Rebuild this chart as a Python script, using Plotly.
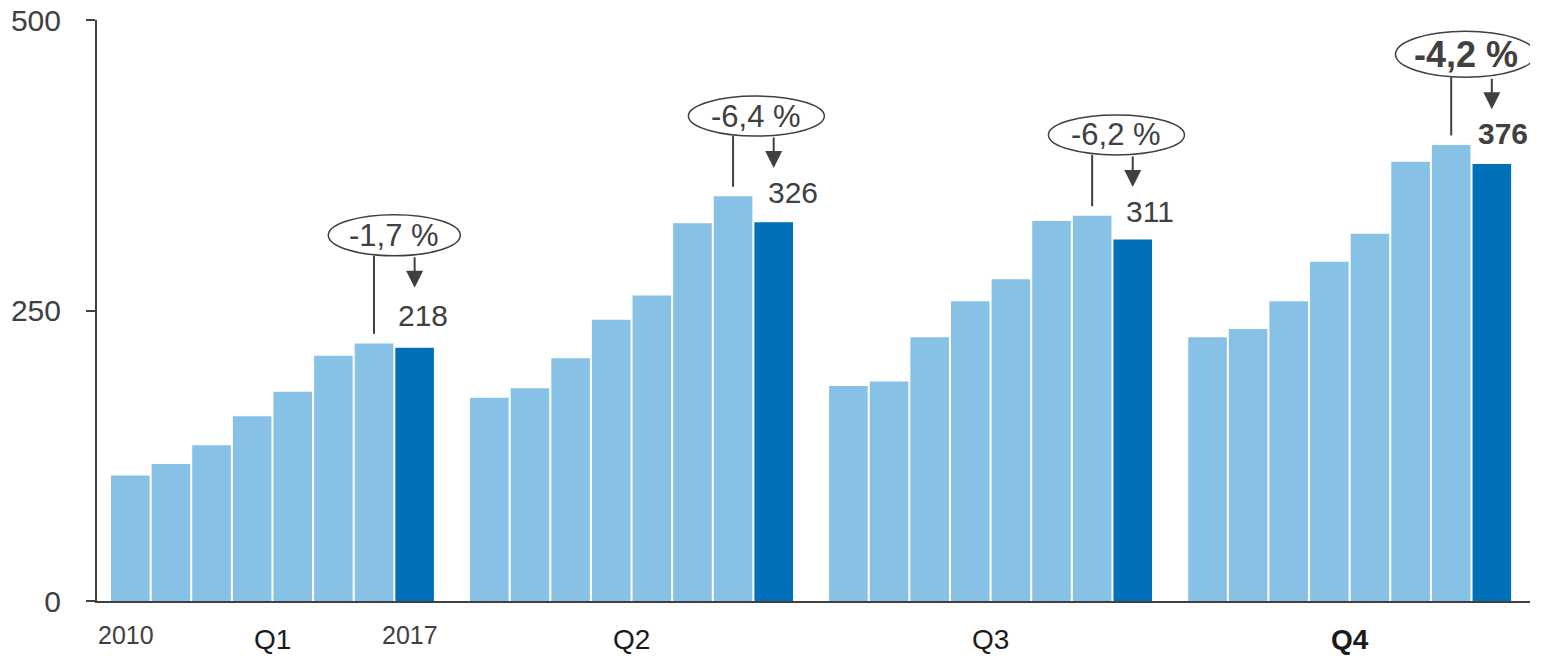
import plotly.graph_objects as go

# ---------------- data ----------------
quarters = ["Q1", "Q2", "Q3", "Q4"]
years = ["2010", "2011", "2012", "2013", "2014", "2015", "2016", "2017"]
q1_values = [108, 118, 134, 159, 180, 211, 221.7, 218]
q2_values = [175, 183, 209, 242, 263, 325, 348.3, 326]
q3_values = [185, 189, 227, 258, 277, 327, 331.6, 311]
q4_values = [227, 234, 258, 292, 316, 378, 392.5, 376]
change_labels = ["-1,7 %", "-6,4 %", "-6,2 %", "-4,2 %"]
value_labels = ["218", "326", "311", "376"]
y_ticks = [0, 250, 500]

series = [q1_values, q2_values, q3_values, q4_values]

# ---------------- style / layout params ----------------
LIGHT = "#87C1E5"
DARK = "#0070B8"
INK = "#404040"
FONT = "Liberation Sans, Arial, sans-serif"
PITCH = 8.84            # distance between quarter groups (bar units)
PX_X = 40.625           # px per x unit
PX_Y = 581 / 500        # px per y unit
ell_gap = [93, 69, 69.5, 78]     # ellipse centre above 2016 bar (y units)
ell_w = [132, 136, 136, 140]     # ellipse widths px
ell_h = [41, 40, 40, 46]         # ellipse heights px
ell_shift = [0, 3, 4, -6]        # x shift px
val_gap = [28, 25.5, 24.6, 26.5] # value label centre above 2017 bar (y units)
val_xshift = [8, 19, 17, 11]     # px
bold = [False, False, False, True]

fig = go.Figure()
shapes = []
annotations = []

for g, vals in enumerate(series):
    off = g * PITCH
    xs = [off + i for i in range(len(vals))]
    colors = [LIGHT] * (len(vals) - 1) + [DARK]
    fig.add_trace(go.Bar(
        x=xs, y=vals, width=0.95, marker=dict(color=colors, line=dict(width=0)),
        hoverinfo="skip", showlegend=False,
    ))

    # ellipse with change label
    yc = vals[6] + ell_gap[g]
    hh = ell_h[g] / PX_Y / 2
    hw = ell_w[g] / PX_X / 2
    xc = off + 6.5 + ell_shift[g] / PX_X
    shapes.append(dict(type="circle", xref="x", yref="y",
                       x0=xc - hw, x1=xc + hw, y0=yc - hh, y1=yc + hh,
                       line=dict(color=INK, width=1.5), fillcolor="white", layer="above"))
    txt = f"<b>{change_labels[g]}</b>" if bold[g] else change_labels[g]
    annotations.append(dict(x=xc, y=yc, xref="x", yref="y", text=txt, showarrow=False,
                            font=dict(family=FONT, size=36 if bold[g] else 31, color=INK),
                            xanchor="center", yanchor="middle"))
    # connector line to previous-year bar
    ybot = yc - hh
    shapes.append(dict(type="line", xref="x", yref="y",
                       x0=off + 6, x1=off + 6, y0=ybot, y1=vals[6] + 9.5 / PX_Y,
                       line=dict(color=INK, width=2)))
    # arrow down to current-year
    annotations.append(dict(x=off + 7, y=ybot - 32 / PX_Y, ax=off + 7, ay=ybot,
                            xref="x", yref="y", axref="x", ayref="y", text="",
                            showarrow=True, arrowhead=2, arrowsize=1.7, arrowwidth=2,
                            arrowcolor=INK))
    # value label
    vtxt = f"<b>{value_labels[g]}</b>" if bold[g] else value_labels[g]
    annotations.append(dict(x=off + 7, y=vals[7] + val_gap[g], xref="x", yref="y",
                            text=vtxt, showarrow=False, xshift=val_xshift[g],
                            font=dict(family=FONT, size=30, color=INK),
                            xanchor="center", yanchor="middle"))
    # quarter label
    qtxt = f"<b>{quarters[g]}</b>" if bold[g] else quarters[g]
    annotations.append(dict(x=off + 3.5, y=-0.067, xref="x", yref="paper", text=qtxt,
                            showarrow=False, font=dict(family=FONT, size=28, color="#1a1a1a"),
                            xanchor="center", yanchor="middle"))

# year labels under Q1
for i, xs_shift in ((0, -4), (7, -5)):
    annotations.append(dict(x=i, y=-0.059, xref="x", yref="paper", text=years[i],
                            showarrow=False, xshift=xs_shift,
                            font=dict(family=FONT, size=25, color=INK),
                            xanchor="center", yanchor="middle"))

fig.update_layout(
    width=1542, height=656,
    margin=dict(l=97, r=12, t=20, b=55, autoexpand=False),
    paper_bgcolor="white", plot_bgcolor="white",
    barmode="overlay",
    shapes=shapes, annotations=annotations,
    xaxis=dict(range=[-0.82, 3 * PITCH + 7.94], showgrid=False, zeroline=False,
               showticklabels=False, ticks="", showline=True, linecolor=INK, linewidth=2,
               fixedrange=True, automargin=False),
    yaxis=dict(range=[0, 500], tickvals=y_ticks, showgrid=False, zeroline=False,
               showline=True, linecolor=INK, linewidth=2, ticks="outside", ticklen=9,
               tickwidth=2, tickcolor=INK, ticklabelstandoff=19, ticklabeloverflow="allow",
               tickfont=dict(family=FONT, size=30, color=INK), fixedrange=True,
               automargin=False),
)

# remove the page's default 8px body margin so the figure fills the window exactly
fig.write_html("out.html", config={"displayModeBar": False},
               post_script="document.body.style.margin='0';")
